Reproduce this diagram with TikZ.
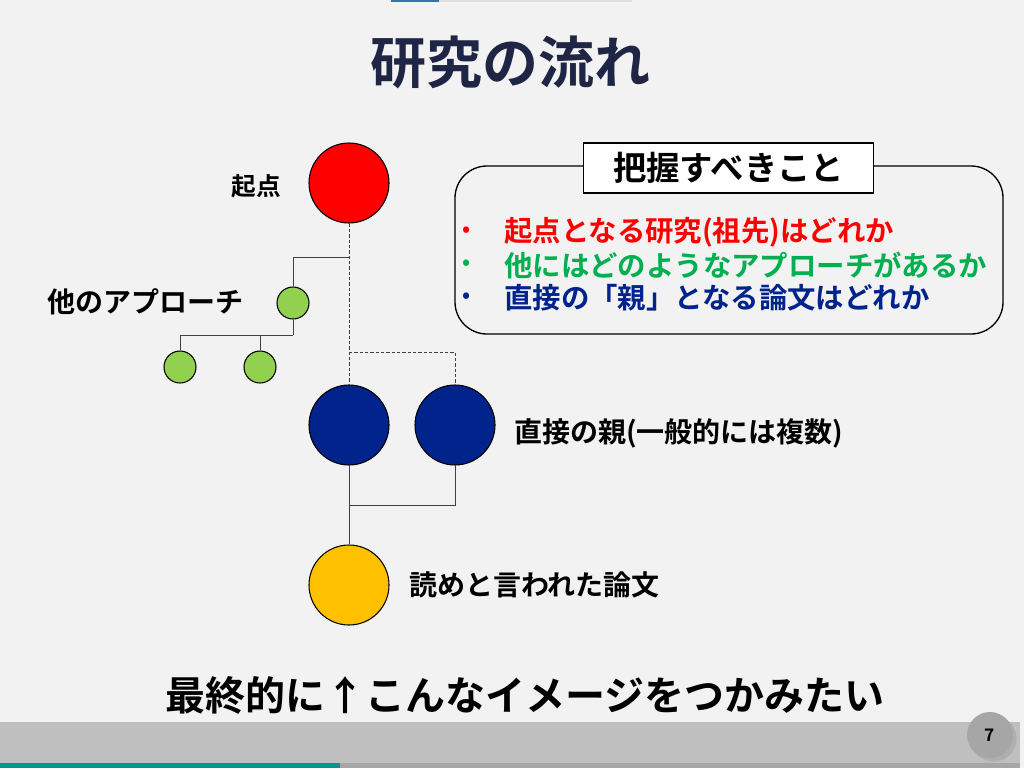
\documentclass[tikz,border=0pt]{standalone}
\usepackage{fontspec}
\setmainfont{Noto Sans CJK JP}[BoldFont={Noto Sans CJK JP Bold}]
\usetikzlibrary{shadows}
\definecolor{bgc}{HTML}{F2F2F2}
\definecolor{titlec}{HTML}{1F2544}
\definecolor{navyc}{HTML}{00238C}
\definecolor{greenc}{HTML}{92D050}
\definecolor{yellowc}{HTML}{FFC000}
\definecolor{bgreen}{HTML}{00B050}
\definecolor{barc}{HTML}{BFBFBF}
\definecolor{tealc}{HTML}{00968A}
\definecolor{pagec}{HTML}{A6A6A6}
\definecolor{topblue}{HTML}{2E75B6}
\begin{document}
\begin{tikzpicture}[x=0.75pt,y=-0.75pt,
  paper/.style={circle,draw=black,line width=0.8pt,inner sep=0pt},
  big/.style={paper,minimum size=60pt},
  small/.style={paper,fill=greenc,minimum size=24pt},
  lab/.style={font=\bfseries\fontsize{21}{24}\selectfont,inner sep=0pt},
  link/.style={draw=black!75,line width=0.7pt},
  dlink/.style={draw=black!75,line width=0.7pt,dash pattern=on 2.5pt off 1.5pt},
  item/.style={font=\bfseries\fontsize{21.3}{24}\selectfont,anchor=west,inner sep=0pt}]
\useasboundingbox (0,0) rectangle (1024,768);
\fill[bgc] (0,0) rectangle (1024,768);
% top marks
\fill[topblue] (391,0) rectangle (439,2);
\fill[black!12] (439,0) rectangle (632,1.5);
% bottom bars
\fill[barc] (0,722) rectangle (1020,768);
\fill[black!35] (0,763) rectangle (1020,768);
\fill[tealc] (0,763) rectangle (340,768);
\node[circle,fill=pagec,minimum size=34.5pt,inner sep=0pt,drop shadow={opacity=0.25}] (pg) at (990,735) {};
\node[font=\bfseries\fontsize{13}{15}\selectfont] (pgn) at (pg) {7};
% title
\node[font=\bfseries\fontsize{42}{48}\selectfont,text=titlec] (title) at (510,62) {研究の流れ};
% nodes
\node[big,fill=red] (root) at (349,183) {};
\node[small] (g1) at (293,303) {};
\node[small] (g2) at (180,367) {};
\node[small] (g3) at (260,367) {};
\node[big,fill=navyc] (p1) at (349,425) {};
\node[big,fill=navyc] (p2) at (455,425) {};
\node[big,fill=yellowc] (y) at (349,585) {};
\coordinate (jr) at (349,257);
\coordinate (jd) at (349,352);
\coordinate (jg) at (293,335);
\coordinate (jp) at (349,505);
% connectors
\draw[dlink] (root.south) -- (p1.north);
\draw[dlink] (jd) -| (p2.north);
\draw[link] (jr) -| (g1.north);
\draw[link] (g1.south) -- (jg);
\draw[link] (jg) -| (g2.north);
\draw[link] (jg) -| (g3.north);
\draw[link] (p2.south) |- (jp);
\draw[link] (p1.south) -- (y.north);
% labels
\node[lab,font=\bfseries\fontsize{18.5}{22}\selectfont] (l1) at (256,186) {起点};
\node[lab] (l2) at (145,302) {他のアプローチ};
\node[lab,anchor=west] (l3) at (514,433) {直接の親(一般的には複数)};
\node[lab,anchor=west] (l4) at (409,585) {読めと言われた論文};
% info box
\draw[line width=1pt,rounded corners=24pt] (455,166) rectangle (1003,334);
\node[draw=black,line width=0.8pt,fill=white,minimum width=217pt,minimum height=37.5pt,inner sep=0pt,font=\bfseries\fontsize{25}{30}\selectfont] (hd) at (728.5,168) {把握すべきこと};
\node[item,text=red,font=\bfseries\fontsize{16}{20}\selectfont] (b1d) at (462,232) {•};
\node[item,text=red] (b1) at (504,232) {起点となる研究(祖先)はどれか};
\node[item,text=bgreen,font=\bfseries\fontsize{16}{20}\selectfont] (b2d) at (462,265) {•};
\node[item,text=bgreen] (b2) at (504,265) {他にはどのようなアプローチがあるか};
\node[item,text=navyc,font=\bfseries\fontsize{16}{20}\selectfont] (b3d) at (462,298) {•};
\node[item,text=navyc] (b3) at (504,298) {直接の「親」となる論文はどれか};
% bottom text
\node[font=\bfseries\fontsize{30}{36}\selectfont,inner sep=0pt] (foot) at (525,695) {最終的に↑こんなイメージをつかみたい};
\end{tikzpicture}
\end{document}
